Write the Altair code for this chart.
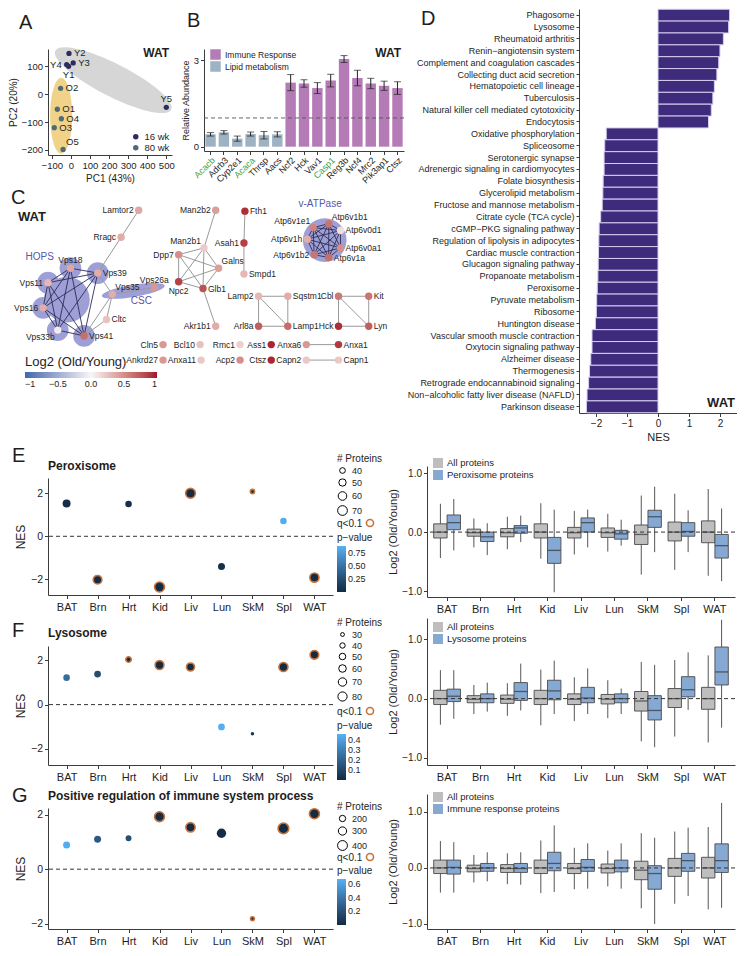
import math
import altair as alt
import pandas as pd

FONT = "Liberation Sans"
INK = "#1e1e1e"
AXC = "#3c3c3c"

# ---------------- data: panel A (PCA) ----------------
pca_samples = ["Y1", "Y2", "Y3", "Y4", "Y5", "O1", "O2", "O3", "O4", "O5"]
pca_pc1 = [-12, -10, 12, -22, 500, -71, -54, -87, -50, -41]
pca_pc2 = [100, 146, 112, 106, -47, -54, 21, -120, -88, -198]
pca_age = ["16 wk"] * 5 + ["80 wk"] * 5
pca_side = ["b", "r", "r", "l", "t", "r", "r", "r", "r", "tr"]
ellipse_age = ["16 wk", "80 wk"]
ellipse_pc1 = [222, -51]
ellipse_pc2 = [50, -77]

# ---------------- data: panel B ----------------
genes = ["Acacb", "Adrb3", "Cyp2e1", "Acaca", "Thrsp", "Aacs", "Ncf2", "Hck", "Vav1",
         "Casp1", "Reg3b", "Ncf4", "Mrc2", "Pik3ap1", "Ctsz"]
gene_group = ["Lipid metabolism"] * 6 + ["Immune Response"] * 9
gene_mean = [0.43, 0.50, 0.28, 0.44, 0.40, 0.43, 2.23, 2.20, 2.04, 2.30, 3.05, 2.39, 2.20, 2.12, 2.04]
gene_err = [0.06, 0.06, 0.09, 0.07, 0.13, 0.09, 0.28, 0.13, 0.19, 0.22, 0.12, 0.27, 0.18, 0.16, 0.22]
green_genes = ["Acacb", "Acaca", "Casp1"]

# ---------------- data: panel C (network, layout coordinates) ----------------
net_nodes = ["Lamtor2", "Rragc", "Vps39", "Vps18", "Vps11", "Vps16", "Vps33b", "Vps41", "Vps35", "Vps26a", "Cltc",
             "Man2b2", "Fth1", "Man2b1", "Asah1", "Dpp7", "Galns", "Smpd1", "Npc2", "Glb1", "Akr1b1",
             "Lamp2", "Sqstm1", "Arl8a", "Lamp1", "Cbl", "Kit", "Hck", "Lyn",
             "Cln5", "Bcl10", "Rmc1", "Ass1", "Anxa6", "Anxa1", "Ankrd27", "Anxa11", "Acp2", "Ctsz", "Capn2", "Capn1",
             "Atp6v1e1", "Atp6v1b1", "Atp6v0d1", "Atp6v1h", "Atp6v0a1", "Atp6v1b2", "Atp6v1a"]
net_x = [133, 115, 91, 63, 40, 35, 50, 77, 106, 149, 100,
         212, 242, 200, 241, 174, 215, 241, 174, 199, 212,
         256, 286, 256, 286, 338, 369, 338, 369,
         158, 196, 237, 269, 305, 338, 158, 197, 237, 269, 305, 338,
         312, 328, 340, 306, 340, 313, 328]
net_y = [217, 245, 282, 277, 292, 318, 341, 347, 304, 297, 330,
         217, 218, 256, 251, 263, 277, 283, 291, 298, 337,
         306, 306, 337, 337, 306, 306, 337, 337,
         356, 356, 356, 356, 356, 356, 372, 372, 372, 372, 372, 372,
         235, 231, 238, 247, 256, 263, 266]
net_lfc = [0.38, 0.35, 0.35, 0.38, 0.30, 0.35, 0.06, 0.65, 0.35, 0.45, 0.25,
           0.42, 0.92, 0.20, 0.85, 0.50, 0.42, 0.30, 0.85, 0.78, 0.35,
           0.30, 0.35, 0.72, 0.66, 0.60, 0.62, 0.92, 0.72,
           0.45, 0.25, 0.18, 0.95, 0.45, 0.88, 0.45, 0.22, 0.50, 0.95, 0.22, 0.22,
           0.55, 0.62, 0.12, 0.35, 0.50, 0.62, 0.65]
net_side = ["l", "l", "r", "t", "l", "l", "bl", "r", "tr", "t", "r",
            "l", "r", "tl", "l", "l", "tr", "r", "b", "r", "l",
            "l", "r", "l", "r", "l", "r", "l", "r",
            "l", "l", "l", "l", "l", "r", "l", "l", "l", "l", "l", "r",
            "tl", "tr", "r", "l", "r", "l", "r"]
hops = ["Vps11", "Vps16", "Vps18", "Vps33b", "Vps39", "Vps41"]
csc = ["Vps35", "Vps26a"]
atpase = ["Atp6v1e1", "Atp6v1b1", "Atp6v0d1", "Atp6v1h", "Atp6v0a1", "Atp6v1b2", "Atp6v1a"]
net_edges = [("Lamtor2", "Rragc"), ("Rragc", "Vps39"), ("Vps39", "Vps35"), ("Vps35", "Cltc"),
             ("Vps35", "Vps26a"), ("Vps35", "Vps41"), ("Cltc", "Vps41"),
             ("Man2b2", "Man2b1"), ("Man2b1", "Dpp7"), ("Man2b1", "Galns"), ("Man2b1", "Npc2"),
             ("Man2b1", "Glb1"), ("Dpp7", "Galns"), ("Dpp7", "Npc2"), ("Dpp7", "Glb1"), ("Npc2", "Glb1"),
             ("Galns", "Glb1"), ("Npc2", "Galns"), ("Glb1", "Akr1b1"),
             ("Fth1", "Asah1"), ("Asah1", "Smpd1"),
             ("Lamp2", "Sqstm1"), ("Lamp2", "Arl8a"), ("Lamp2", "Lamp1"), ("Sqstm1", "Lamp1"), ("Arl8a", "Lamp1"),
             ("Cbl", "Kit"), ("Cbl", "Hck"), ("Cbl", "Lyn"), ("Kit", "Lyn"), ("Hck", "Lyn"),
             ("Anxa6", "Anxa1"), ("Capn2", "Capn1")]
net_edges += [(a, b) for i, a in enumerate(hops) for b in hops[i + 1:]]
net_edges += [(a, b) for i, a in enumerate(atpase) for b in atpase[i + 1:]]
complex_names = ["HOPS", "CSC", "v-ATPase"]
complex_lx = [17, 125, 297]
complex_ly = [265, 311, 211]

# ---------------- data: panel D ----------------
pathways = ["Phagosome", "Lysosome", "Rheumatoid arthritis", "Renin\u2212angiotensin system",
            "Complement and coagulation cascades", "Collecting duct acid secretion", "Hematopoietic cell lineage",
            "Tuberculosis", "Natural killer cell mediated cytotoxicity", "Endocytosis", "Oxidative phosphorylation",
            "Spliceosome", "Serotonergic synapse", "Adrenergic signaling in cardiomyocytes", "Folate biosynthesis",
            "Glycerolipid metabolism", "Fructose and mannose metabolism", "Citrate cycle (TCA cycle)",
            "cGMP\u2212PKG signaling pathway", "Regulation of lipolysis in adipocytes", "Cardiac muscle contraction",
            "Glucagon signaling pathway", "Propanoate metabolism", "Peroxisome", "Pyruvate metabolism", "Ribosome",
            "Huntington disease", "Vascular smooth muscle contraction", "Oxytocin signaling pathway",
            "Alzheimer disease", "Thermogenesis", "Retrograde endocannabinoid signaling",
            "Non\u2212alcoholic fatty liver disease (NAFLD)", "Parkinson disease"]
pathway_nes = [2.31, 2.28, 2.11, 2.00, 1.96, 1.90, 1.82, 1.77, 1.72, 1.63, -1.67, -1.72, -1.74, -1.74, -1.77,
               -1.78, -1.80, -1.85, -1.90, -1.91, -1.92, -1.93, -1.94, -1.96, -1.98, -1.99, -2.02, -2.13, -2.13,
               -2.17, -2.21, -2.24, -2.29, -2.31]

# ---------------- data: panels E-G ----------------
tissues = ["BAT", "Brn", "Hrt", "Kid", "Liv", "Lun", "SkM", "Spl", "WAT"]

perox_nes = [1.52, -2.02, 1.50, -2.36, 2.00, -1.40, 2.08, 0.71, -1.92]
perox_n = [55, 60, 45, 72, 70, 48, 33, 45, 65]
perox_p = [0.02, 0.0, 0.03, 0.0, 0.0, 0.04, 0.02, 0.85, 0.0]
perox_q = [False, True, False, True, True, False, True, False, True]

lyso_nes = [1.22, 1.38, 2.04, 1.79, 1.70, -1.01, -1.32, 1.70, 2.25]
lyso_n = [50, 52, 40, 75, 65, 52, 28, 78, 72]
lyso_p = [0.24, 0.12, 0.0, 0.0, 0.0, 0.45, 0.04, 0.0, 0.0]
lyso_q = [False, False, True, True, True, False, False, True, True]

immune_nes = [0.89, 1.10, 1.14, 1.93, 1.54, 1.32, -1.82, 1.50, 2.04]
immune_n = [230, 230, 180, 400, 360, 370, 110, 460, 410]
immune_p = [0.66, 0.25, 0.20, 0.0, 0.0, 0.02, 0.01, 0.0, 0.0]
immune_q = [False, False, False, True, True, False, True, True, True]

# box stats per tissue: (lower whisker, q1, median, q3, upper whisker)
all_protein_box = [(-0.44, -0.10, 0.0, 0.14, 0.48), (-0.26, -0.07, -0.01, 0.05, 0.23),
                   (-0.29, -0.08, -0.01, 0.06, 0.26), (-0.45, -0.10, 0.0, 0.14, 0.49),
                   (-0.38, -0.10, -0.01, 0.08, 0.36), (-0.33, -0.09, -0.01, 0.07, 0.31),
                   (-0.72, -0.21, -0.04, 0.12, 0.62), (-0.64, -0.15, 0.0, 0.17, 0.65),
                   (-0.74, -0.18, 0.0, 0.19, 0.73)]
perox_box = [(-0.31, 0.04, 0.16, 0.29, 0.56), (-0.39, -0.16, -0.08, 0.0, 0.15), (-0.17, -0.02, 0.07, 0.11, 0.28),
             (-1.02, -0.53, -0.31, -0.09, 0.38), (-0.26, 0.0, 0.16, 0.24, 0.38), (-0.23, -0.12, -0.03, 0.03, 0.21),
             (-0.34, 0.08, 0.26, 0.37, 0.77), (-0.34, -0.07, 0.01, 0.16, 0.37), (-0.83, -0.44, -0.23, -0.04, 0.40)]
lyso_box = [(-0.34, -0.05, 0.04, 0.16, 0.48), (-0.22, -0.07, 0.0, 0.08, 0.27), (-0.20, -0.03, 0.12, 0.27, 0.59),
            (-0.26, -0.02, 0.13, 0.31, 0.64), (-0.26, -0.07, 0.01, 0.19, 0.51), (-0.26, -0.07, 0.0, 0.08, 0.17),
            (-0.82, -0.36, -0.20, 0.05, 0.57), (-0.19, 0.03, 0.15, 0.37, 0.78), (-0.49, 0.23, 0.45, 0.87, 1.33)]
immune_box = [(-0.44, -0.11, 0.01, 0.14, 0.46), (-0.24, -0.06, 0.0, 0.08, 0.28), (-0.30, -0.08, -0.01, 0.08, 0.28),
              (-0.43, -0.05, 0.08, 0.28, 0.76), (-0.37, -0.06, 0.01, 0.15, 0.44), (-0.37, -0.07, 0.0, 0.14, 0.44),
              (-1.00, -0.38, -0.10, 0.04, 0.54), (-0.50, -0.06, 0.13, 0.26, 0.72), (-0.71, -0.08, 0.13, 0.43, 1.16)]


# ---------------- helpers ----------------
def ann(text, x, y, size, weight="normal", align="left", color=INK):
    return alt.Chart(pd.DataFrame({"t": [text]})).mark_text(
        align=align, baseline="middle", fontSize=size, fontWeight=weight, color=color
    ).encode(text="t:N", x=alt.value(x), y=alt.value(y))


def spacer(w, h):
    return alt.Chart(pd.DataFrame({"z": [0]})).mark_rule(opacity=0).encode(
        x=alt.value(0), x2=alt.value(1), y=alt.value(0), y2=alt.value(h)).properties(width=w, height=h)


SIDE = {
    "r": dict(align="left", dx=5, dy=0),
    "l": dict(align="right", dx=-5, dy=0),
    "t": dict(align="center", dx=0, dy=-8),
    "b": dict(align="center", dx=0, dy=9),
    "tr": dict(align="left", dx=3, dy=-7),
    "tl": dict(align="right", dx=-3, dy=-7),
    "bl": dict(align="right", dx=-3, dy=7),
}


def side_labels(df, xenc, yenc, size):
    out = []
    for s in sorted(set(df["side"])):
        o = SIDE[s]
        out.append(alt.Chart(df).transform_filter(f"datum.side == '{s}'").mark_text(
            align=o["align"], baseline="middle", dx=o["dx"], dy=o["dy"], fontSize=size, color=INK
        ).encode(x=xenc, y=yenc, text="label:N"))
    return out


def ellipse_path(k):
    c = 0.5523
    return (f"M 1 0 C 1 {c*k:.4f} {c:.4f} {k:.4f} 0 {k:.4f} "
            f"C {-c:.4f} {k:.4f} -1 {c*k:.4f} -1 0 "
            f"C -1 {-c*k:.4f} {-c:.4f} {-k:.4f} 0 {-k:.4f} "
            f"C {c:.4f} {-k:.4f} 1 {-c*k:.4f} 1 0 Z")


def indep(c):
    return c.resolve_scale(color="independent", fill="independent", stroke="independent",
                           size="independent", xOffset="independent")


# ---------------- Panel A ----------------
A_W, A_H = 124, 106
a_df = pd.DataFrame({"label": pca_samples, "pc1": pca_pc1, "pc2": pca_pc2, "age": pca_age, "side": pca_side})
ell_df = pd.DataFrame({"age": ellipse_age, "pc1": ellipse_pc1, "pc2": ellipse_pc2})
xA = alt.X("pc1:Q", scale=alt.Scale(domain=[-120, 530], nice=False, zero=False),
           axis=alt.Axis(values=[-100, 0, 100, 200, 300, 400, 500], title="PC1 (43%)",
                         labelFontSize=9.5, titleFontSize=10))
yA = alt.Y("pc2:Q", scale=alt.Scale(domain=[-218, 162], nice=False, zero=False),
           axis=alt.Axis(values=[-200, -100, 0, 100], title="PC2 (20%)", labelFontSize=9.5, titleFontSize=10))
ellA1 = alt.Chart(ell_df).transform_filter("datum.age == '16 wk'").mark_point(
    shape=ellipse_path(0.25), filled=True, color="#d6d6d6", opacity=1, size=130 ** 2, angle=27, strokeWidth=0
).encode(x=xA, y=yA)
ellA2 = alt.Chart(ell_df).transform_filter("datum.age == '80 wk'").mark_point(
    shape=ellipse_path(0.29), filled=True, color="#f0d389", opacity=1, size=76 ** 2, angle=90, strokeWidth=0
).encode(x=xA, y=yA)
ptsA = alt.Chart(a_df).mark_circle(size=28, opacity=1).encode(
    x=xA, y=yA,
    color=alt.Color("age:N", scale=alt.Scale(domain=["16 wk", "80 wk"], range=["#2c2c5e", "#4d6b78"]),
                    legend=alt.Legend(title=None, orient="bottom-right", offset=2, labelFontSize=9.5,
                                      symbolSize=30, rowPadding=0, padding=0)))
chartA = alt.layer(ellA1, ellA2, ptsA, *side_labels(a_df, xA, yA, 9.5),
                   ann("A", -29, -26, 20), ann("WAT", A_W - 3, 4, 12, "bold", "right")
                   ).properties(width=A_W, height=A_H)

# ---------------- Panel B ----------------
B_W, B_H = 200, 102
b_df = pd.DataFrame({"gene": genes, "group": gene_group, "mean": gene_mean, "err": gene_err})
b_df["lo"] = b_df["mean"] - b_df["err"]
b_df["hi"] = b_df["mean"] + b_df["err"]
green_test = "indexof(" + str(green_genes) + ", datum.value) >= 0"
xB = alt.X("gene:N", sort=genes, scale=alt.Scale(paddingInner=0.22, paddingOuter=0.1),
           axis=alt.Axis(title=None, labelAngle=-45, labelFontSize=9, labelPadding=1,
                         labelColor={"condition": {"test": green_test, "value": "#3f9f4a"}, "value": INK}))
yB_scale = alt.Scale(domain=[-0.15, 3.4], nice=False, zero=False)
yB_axis = alt.Axis(values=[0, 1, 2, 3], title="Relative Abundance", titleFontSize=9, labelFontSize=9.5)
barsB = alt.Chart(b_df).mark_bar().encode(
    x=xB, y=alt.Y("mean:Q", scale=yB_scale, axis=yB_axis), y2=alt.datum(0),
    color=alt.Color("group:N", scale=alt.Scale(domain=["Immune Response", "Lipid metabolism"],
                                               range=["#b47bb7", "#9db2c2"]),
                    legend=alt.Legend(title=None, orient="none", legendX=6, legendY=0, symbolType="square",
                                      symbolSize=110, labelFontSize=8.5, rowPadding=1, symbolStrokeWidth=0)))
errB = alt.Chart(b_df).mark_rule(color="#222", strokeWidth=1).encode(
    x=xB, y=alt.Y("lo:Q", scale=yB_scale, axis=yB_axis), y2="hi:Q")
capLoB = alt.Chart(b_df).mark_tick(color="#222", thickness=1, size=7).encode(
    x=xB, y=alt.Y("lo:Q", scale=yB_scale, axis=yB_axis))
capHiB = alt.Chart(b_df).mark_tick(color="#222", thickness=1, size=7).encode(
    x=xB, y=alt.Y("hi:Q", scale=yB_scale, axis=yB_axis))
oneB = alt.Chart(pd.DataFrame({"v": [1]})).mark_rule(color="#555", strokeDash=[4, 3], strokeWidth=0.9).encode(
    y=alt.datum(1))
chartB = alt.layer(barsB, errB, capLoB, capHiB, oneB,
                   ann("B", -17, -28, 20), ann("WAT", B_W - 3, 4, 12, "bold", "right")
                   ).properties(width=B_W, height=B_H)

# ---------------- Panel C (network) ----------------
C_X0, C_X1, C_Y0, C_Y1 = 40, 398, 192, 405
C_W, C_H = 349, 206
node_df = pd.DataFrame({"label": net_nodes, "x": net_x, "y": net_y, "lfc": net_lfc, "side": net_side})
pos = {n: (x, y) for n, x, y in zip(net_nodes, net_x, net_y)}
edge_rows = []
for a, b in net_edges:
    inside = (a in hops and b in hops) or (a in atpase and b in atpase)
    edge_rows.append({"x": pos[a][0], "y": pos[a][1], "x2": pos[b][0], "y2": pos[b][1],
                      "kind": "complex" if inside else "plain"})
edge_df = pd.DataFrame(edge_rows)
xN = alt.X("x:Q", scale=alt.Scale(domain=[C_X0, C_X1], nice=False, zero=False), axis=None)
yN = alt.Y("y:Q", scale=alt.Scale(domain=[C_Y0, C_Y1], reverse=True, nice=False, zero=False), axis=None)

hops_df = pd.DataFrame({"x": [pos[n][0] for n in hops], "y": [pos[n][1] for n in hops]})
hops_c = pd.DataFrame({"x": [hops_df["x"].mean()], "y": [hops_df["y"].mean()]})
atp_c = pd.DataFrame({"x": [sum(pos[n][0] for n in atpase) / len(atpase)],
                      "y": [sum(pos[n][1] for n in atpase) / len(atpase)]})
(cx1, cy1), (cx2, cy2) = pos[csc[0]], pos[csc[1]]
csc_c = pd.DataFrame({"x": [(cx1 + cx2) / 2], "y": [(cy1 + cy2) / 2]})
csc_angle = math.degrees(math.atan2(cy2 - cy1, cx2 - cx1)) % 360
csc_len = (math.hypot(cx2 - cx1, cy2 - cy1) + 22) * 0.97
BLOB = "#9d9fd6"
blob1 = alt.Chart(hops_df).mark_circle(color=BLOB, opacity=1, size=470).encode(x=xN, y=yN)
blob2 = alt.Chart(hops_c).mark_circle(color=BLOB, opacity=1, size=2100).encode(x=xN, y=yN)
blob3 = alt.Chart(atp_c).mark_circle(color=BLOB, opacity=1, size=1900).encode(x=xN, y=yN)
blob4 = alt.Chart(csc_c).mark_point(shape=ellipse_path(0.19), filled=True, color=BLOB, opacity=1,
                                    size=csc_len ** 2, angle=csc_angle, strokeWidth=0).encode(x=xN, y=yN)
edgeP = alt.Chart(edge_df).transform_filter("datum.kind == 'plain'").mark_rule(
    color="#9a9a9a", strokeWidth=1).encode(x=xN, y=yN, x2="x2:Q", y2="y2:Q")
edgeC = alt.Chart(edge_df).transform_filter("datum.kind == 'complex'").mark_rule(
    color="#2d2d52", strokeWidth=0.9).encode(x=xN, y=yN, x2="x2:Q", y2="y2:Q")
nodes = alt.Chart(node_df).mark_circle(size=55, opacity=1).encode(
    x=xN, y=yN,
    color=alt.Color("lfc:Q", scale=alt.Scale(domain=[-1, 0, 1], range=["#3f68ad", "#f7f7f7", "#a3132b"]),
                    legend=alt.Legend(title="Log2 (Old/Young)", orient="none", legendX=-23, legendY=170,
                                      direction="horizontal", gradientLength=132, gradientThickness=6,
                                      values=[-1, -0.5, 0, 0.5, 1],
                                      labelExpr="datum.value == 0 ? '0.0' : format(datum.value, '')",
                                      labelFontSize=9, titleFontSize=13, titleFontWeight="normal",
                                      labelOverlap=False, titlePadding=3)))
cplx_df = pd.DataFrame({"label": complex_names, "x": complex_lx, "y": complex_ly})
cplx = alt.Chart(cplx_df).mark_text(align="left", baseline="middle", fontSize=10,
                                    color="#5656a8").encode(x=xN, y=yN, text="label:N")
chartC = alt.layer(blob1, blob2, blob3, blob4, edgeP, edgeC, nodes, *side_labels(node_df, xN, yN, 8.5), cplx,
                   ann("C", -37, 12, 20), ann("WAT", -30, 31, 13, "bold")
                   ).properties(width=C_W, height=C_H)

# ---------------- Panel D ----------------
D_W, D_H = 158, 404
d_df = pd.DataFrame({"pathway": pathways, "nes": pathway_nes})
barsD = alt.Chart(d_df).mark_bar(color="#3e2b7b", stroke="#d6cdf0", strokeWidth=1).encode(
    y=alt.Y("pathway:N", sort=pathways, scale=alt.Scale(paddingInner=0.0, paddingOuter=0.02),
            axis=alt.Axis(title=None, labelFontSize=9, labelLimit=300, tickSize=3, labelPadding=2)),
    x=alt.X("nes:Q", scale=alt.Scale(domain=[-2.55, 2.55], nice=False, zero=False),
            axis=alt.Axis(values=[-2, -1, 0, 1, 2], format="d", title="NES", labelFontSize=10,
                          titleFontSize=11)))
chartD = alt.layer(barsD, ann("D", -158, 10, 20), ann("WAT", D_W - 2, D_H - 10, 13, "bold", "right")
                   ).properties(width=D_W, height=D_H)


# ---------------- Panels E-G ----------------
DOT_W = 285
BOX_W = 308


def dot_panel(letter, title, nes, nprot, pval, qsig, ydom, H, size_dom, size_rng, size_vals,
              p_dom, p_vals, p_fmt, leg_y, letter_y, title_y):
    df = pd.DataFrame({"tissue": tissues, "nes": nes, "n": nprot, "p": pval,
                       "q": ["q<0.1" if s else "ns" for s in qsig]})
    x = alt.X("tissue:N", sort=tissues, scale=alt.Scale(type="point", padding=0.6),
              axis=alt.Axis(title=None, labelFontSize=11, labelAngle=0, labelPadding=3))
    y = alt.Y("nes:Q", scale=alt.Scale(domain=ydom, nice=False, zero=False),
              axis=alt.Axis(values=[-2, -1, 0, 1, 2], title="NES", titleFontSize=12, labelFontSize=10.5))
    zero = alt.Chart(pd.DataFrame({"z": [0]})).mark_rule(strokeDash=[4, 3], color="#333",
                                                       strokeWidth=1).encode(y=alt.datum(0))
    pts = alt.Chart(df).mark_circle(opacity=1, strokeWidth=1.6).encode(
        x=x, y=y,
        size=alt.Size("n:Q", scale=alt.Scale(domain=size_dom, range=size_rng),
                      legend=alt.Legend(title="# Proteins", values=size_vals, orient="none",
                                        legendX=DOT_W + 4, legendY=leg_y[0], symbolFillColor="white",
                                        symbolStrokeColor="black", symbolStrokeWidth=1, labelFontSize=9,
                                        titleFontSize=10, rowPadding=0, titlePadding=2, symbolType="circle")),
        fill=alt.Fill("p:Q", scale=alt.Scale(domain=p_dom, range=["#132B43", "#56B1F7"]),
                      legend=alt.Legend(title="p\u2212value", values=p_vals, format=p_fmt, orient="none",
                                        legendX=DOT_W + 4, legendY=leg_y[2], gradientLength=46,
                                        gradientThickness=9, direction="vertical", labelFontSize=9,
                                        titleFontSize=10, titlePadding=3, labelOverlap=False)),
        stroke=alt.Stroke("q:N", scale=alt.Scale(domain=["q<0.1", "ns"], range=["#c8733a", "transparent"]),
                          legend=alt.Legend(title="q<0.1", values=["q<0.1"], labelExpr="''", titleOrient="left",
                                            orient="none", legendX=DOT_W + 4, legendY=leg_y[1],
                                            symbolFillColor="white", symbolStrokeWidth=1.6, symbolSize=50,
                                            titleFontSize=10, titlePadding=2)))
    return alt.layer(zero, pts, ann(letter, -36, letter_y, 20), ann(title, 0, title_y, 12, "bold")
                     ).properties(width=DOT_W, height=H)


def box_panel(path_name, path_stats, ydom, H, leg_y):
    rows = []
    for t, a, p in zip(tissues, all_protein_box, path_stats):
        for g, s in (("a", a), ("p", p)):
            rows.append({"tissue": t, "g": g, "lo": s[0], "q1": s[1], "med": s[2], "q3": s[3], "hi": s[4]})
    df = pd.DataFrame(rows)
    x = alt.X("tissue:N", sort=tissues, scale=alt.Scale(paddingInner=0.2, paddingOuter=0.2),
              axis=alt.Axis(title=None, labelAngle=0, labelFontSize=11, labelPadding=3))
    xo = alt.XOffset("g:N", sort=["a", "p"], scale=alt.Scale(domain=["a", "p"], paddingInner=0, paddingOuter=0))
    ysc = alt.Scale(domain=ydom, nice=False, zero=False)
    yax = alt.Axis(values=[-1, -0.5, 0, 0.5, 1], format=".1f", title="Log2 (Old/Young)", titleFontSize=11,
                   labelFontSize=10)
    whisk = alt.Chart(df).mark_rule(color="#555", strokeWidth=1).encode(
        x=x, xOffset=xo, y=alt.Y("lo:Q", scale=ysc, axis=yax), y2="hi:Q")
    box = alt.Chart(df).mark_bar(stroke="#4a4a4a", strokeWidth=0.9).encode(
        x=x, xOffset=xo, y=alt.Y("q1:Q", scale=ysc, axis=yax), y2="q3:Q",
        fill=alt.Fill("g:N", scale=alt.Scale(domain=["a", "p"], range=["#bebebe", "#86a9d4"]),
                      legend=alt.Legend(title=None, orient="none", legendX=6, legendY=leg_y,
                                        labelExpr=f"datum.value == 'a' ? 'All proteins' : '{path_name}'",
                                        symbolType="square", symbolSize=100, labelFontSize=9.5,
                                        rowPadding=2, symbolStrokeWidth=0)))
    med = alt.Chart(df).mark_tick(color="#333", thickness=1.3, size=13).encode(
        x=x, xOffset=xo, y=alt.Y("med:Q", scale=ysc, axis=yax))
    zero = alt.Chart(pd.DataFrame({"z": [0]})).mark_rule(strokeDash=[4, 3], color="#333",
                                                       strokeWidth=1).encode(y=alt.datum(0))
    return alt.layer(whisk, box, med, zero).properties(width=BOX_W, height=H)


dotE = dot_panel("E", "Peroxisome", perox_nes, perox_n, perox_p, perox_q, [-2.73, 2.71], 117,
                 [30, 75], [12, 105], [40, 50, 60, 70], [0, 0.88], [0.25, 0.5, 0.75], ".2f",
                 (-24, 40, 55), -22, -12)
boxE = box_panel("Peroxisome proteins", perox_box, [-1.1, 1.12], 131, -8)
dotF = dot_panel("F", "Lysosome", lyso_nes, lyso_n, lyso_p, lyso_q, [-2.73, 2.65], 119,
                 [25, 85], [8, 92], [30, 40, 50, 60, 70, 80], [0, 0.46], [0.1, 0.2, 0.3, 0.4], ".1f",
                 (-28, 60, 75), -15, -13)
boxF = box_panel("Lysosome proteins", lyso_box, [-1.12, 1.36], 147, 4)
dotG = dot_panel("G", "Positive regulation of immune system process", immune_nes, immune_n, immune_p, immune_q,
                 [-2.2, 2.25], 121, [100, 480], [12, 120], [200, 300, 400], [0, 0.68], [0.2, 0.4, 0.6], ".1f",
                 (-6, 44, 58), -12, -12)
boxG = box_panel("Immune response proteins", immune_box, [-1.09, 1.32], 135, -2)

colDotE = indep(alt.vconcat(spacer(DOT_W, 1), dotE, spacing=-21))
colDotF = indep(alt.vconcat(spacer(DOT_W, 1), dotF, spacing=-1))
colDotG = indep(alt.vconcat(spacer(DOT_W, 1), dotG, spacing=-9))

rowAB = indep(alt.hconcat(chartA, chartB, spacing=6))
leftCol = indep(alt.vconcat(spacer(A_W, 1), rowAB, chartC, spacing=1))
top = indep(alt.hconcat(leftCol, chartD, spacing=2))
rowE = indep(alt.hconcat(colDotE, boxE, spacing=4))
rowF = indep(alt.hconcat(colDotF, boxF, spacing=4))
rowG = indep(alt.hconcat(colDotG, boxG, spacing=4))

chart = indep(alt.vconcat(top, rowE, rowF, rowG, spacing=3)).properties(padding=0)
chart = chart.configure(font=FONT).configure_view(stroke=None).configure_axis(
    grid=False, domainColor=AXC, tickColor=AXC, labelColor=INK, titleColor=INK, labelFontSize=10,
    titleFontSize=11, titleFontWeight="normal", tickSize=3.5, labelPadding=2, titlePadding=3
).configure_legend(labelColor=INK, titleColor=INK, titleFontWeight="normal", padding=0)

chart.save("out.html", embed_options={"renderer": "svg", "actions": False})
